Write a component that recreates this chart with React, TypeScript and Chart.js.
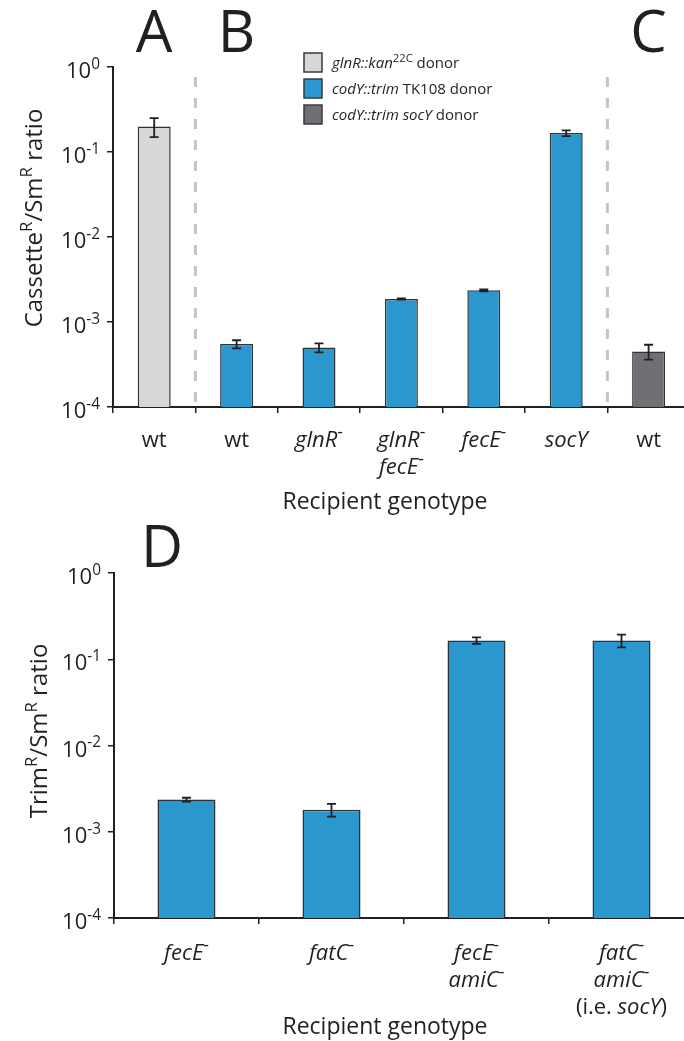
import React, { useEffect, useRef } from "react";
import { Chart, registerables } from "chart.js";

Chart.register(...registerables);

const FONT = '"Open Sans", "Noto Sans", sans-serif';
const INK = "#231f20";

// ---- Panels A–C (top) ----
const topCategories = ["wt", "wt", "*glnR*^-^", "*glnR*^-^\n*fecE*^-^", "*fecE*^-^", "*socY*", "wt"];
const topValues = [0.2, 5.5e-4, 5.0e-4, 1.87e-3, 2.36e-3, 0.167, 4.5e-4];
const topErrors = [0.05, 0.6e-4, 0.6e-4, 0.03e-3, 0.06e-3, 0.013, 0.9e-4];
const topDonors = [0, 1, 1, 1, 1, 1, 2];
const topDividers = [1, 6];
const topLetters = ["A", "B", "C"];
const topLetterIndex = [0, 1, 6];

// ---- Legend (donor strains) ----
const donorLabels = ["*glnR::kan*^22C^ donor", "*codY::trim* TK108 donor", "*codY::trim socY* donor"];
const donorColors = ["#d6d7d9", "#2a98cf", "#6f7073"];

// ---- Panel D (bottom) ----
const bottomCategories = ["*fecE*^-^", "*fatC*^-^", "*fecE*^-^\n*amiC*^-^", "*fatC*^-^\n*amiC*^-^\n(i.e. *socY*)"];
const bottomValues = [2.36e-3, 1.8e-3, 0.165, 0.165];
const bottomErrors = [0.12e-3, 0.3e-3, 0.014, 0.028];

// ---- Shared axis ----
const yTickValues = [1, 1e-1, 1e-2, 1e-3, 1e-4];
const yTickLabels = ["10^0^", "10^-1^", "10^-2^", "10^-3^", "10^-4^"];
const xTitle = "Recipient genotype";

type Seg = { t: string; i: boolean; s: boolean };
function parseRich(str: string): Seg[] {
  const segs: Seg[] = [];
  let it = false, sp = false, buf = "";
  for (const ch of str) {
    if (ch === "*" || ch === "^") {
      if (buf) segs.push({ t: buf, i: it, s: sp });
      buf = "";
      if (ch === "*") it = !it; else sp = !sp;
    } else buf += ch;
  }
  if (buf) segs.push({ t: buf, i: it, s: sp });
  return segs;
}
function fontFor(seg: Seg, size: number, supRatio: number) {
  const sz = seg.s ? size * supRatio : size;
  return `${seg.i ? "italic " : ""}${sz}px ${FONT}`;
}
function drawRich(ctx: CanvasRenderingContext2D, str: string, x: number, y: number, size: number, align: string, supRatio = 0.7) {
  const segs = parseRich(str);
  let w = 0;
  for (const s of segs) { ctx.font = fontFor(s, size, supRatio); w += ctx.measureText(s.t).width; }
  let cx = align === "center" ? x - w / 2 : align === "right" ? x - w : x;
  ctx.textAlign = "left";
  ctx.textBaseline = "alphabetic";
  ctx.fillStyle = INK;
  for (const s of segs) {
    ctx.font = fontFor(s, size, supRatio);
    ctx.fillText(s.t, cx, s.s ? y - size * 0.42 : y);
    cx += ctx.measureText(s.t).width;
  }
}

type DecorCfg = {
  errors: number[];
  dividers: number[];
  letters: { text: string; x: number }[];
  letterBaseline: number;
  yTitle: string;
  yTitleX: number;
  yTitleY: number;
  labelBase: number;
  labelGap: number;
  titleBase: number;
  legend: boolean;
};

function makeDecor(cfg: DecorCfg) {
  return {
    id: "decor",
    beforeDatasetsDraw(chart: any) {
      const ctx = chart.ctx as CanvasRenderingContext2D;
      const xs = chart.scales.x;
      const area = chart.chartArea;
      ctx.save();
      ctx.strokeStyle = "#c3c5c8";
      ctx.lineWidth = 3;
      ctx.setLineDash([10, 11]);
      for (const d of cfg.dividers) {
        const x = (xs.getPixelForValue(d - 1) + xs.getPixelForValue(d)) / 2;
        ctx.beginPath();
        ctx.moveTo(x, area.top + 10);
        ctx.lineTo(x, area.bottom);
        ctx.stroke();
      }
      ctx.restore();
    },
    afterDatasetsDraw(chart: any) {
      const ctx = chart.ctx as CanvasRenderingContext2D;
      const xs = chart.scales.x;
      const ys = chart.scales.y;
      const vals = chart.data.datasets[0].data as number[];
      ctx.save();
      ctx.strokeStyle = INK;
      ctx.lineWidth = 1.8;
      vals.forEach((v, i) => {
        const e = cfg.errors[i];
        const x = xs.getPixelForValue(i);
        const y1 = ys.getPixelForValue(v + e);
        const y2 = ys.getPixelForValue(Math.max(v - e, 1e-6));
        ctx.beginPath();
        ctx.moveTo(x, y1); ctx.lineTo(x, y2);
        ctx.moveTo(x - 4.5, y1); ctx.lineTo(x + 4.5, y1);
        ctx.moveTo(x - 4.5, y2); ctx.lineTo(x + 4.5, y2);
        ctx.stroke();
      });
      ctx.restore();
    },
    afterDraw(chart: any) {
      const ctx = chart.ctx as CanvasRenderingContext2D;
      const xs = chart.scales.x;
      const ys = chart.scales.y;
      const area = chart.chartArea;
      ctx.save();
      // y tick labels
      yTickValues.forEach((v, i) => {
        drawRich(ctx, yTickLabels[i], area.left - 13, ys.getPixelForValue(v) + 11, 22, "right", 0.7);
      });
      // x tick labels
      (chart.data.labels as string[]).forEach((lab, i) => {
        const x = xs.getPixelForValue(i);
        lab.split("\n").forEach((line, j) => {
          drawRich(ctx, line, x, area.bottom + cfg.labelBase + j * cfg.labelGap, 22, "center", 0.8);
        });
      });
      // x title
      drawRich(ctx, xTitle, 385, area.bottom + cfg.titleBase, 23, "center");
      // y title
      ctx.save();
      ctx.translate(cfg.yTitleX, cfg.yTitleY);
      ctx.rotate(-Math.PI / 2);
      drawRich(ctx, cfg.yTitle, 0, 0, 24, "center", 0.7);
      ctx.restore();
      // panel letters
      ctx.fillStyle = INK;
      ctx.font = `58px ${FONT}`;
      ctx.textAlign = "center";
      ctx.textBaseline = "alphabetic";
      for (const L of cfg.letters) ctx.fillText(L.text, L.x, cfg.letterBaseline);
      // legend
      if (cfg.legend) {
        donorLabels.forEach((lab, i) => {
          const by = 53 + i * 26;
          ctx.fillStyle = donorColors[i];
          ctx.fillRect(304, by, 18, 19);
          ctx.strokeStyle = "#3a3a3a";
          ctx.lineWidth = 1.5;
          ctx.strokeRect(304, by, 18, 19);
          drawRich(ctx, lab, 332, by + 15, 15, "left", 0.75);
        });
      }
      ctx.restore();
    },
  };
}

function scalesFor() {
  const grid = { display: true, offset: true, drawOnChartArea: false, drawTicks: true, tickLength: 6, color: INK, lineWidth: 1.5 };
  return {
    x: {
      type: "category",
      offset: true,
      grid,
      border: { display: true, color: INK, width: 2 },
      ticks: { display: false },
      afterFit: (s: any) => { s.height = 6; },
    },
    y: {
      type: "logarithmic",
      min: 1e-4,
      max: 1,
      grid: { ...grid, offset: false },
      border: { display: true, color: INK, width: 2 },
      ticks: { display: false },
      afterBuildTicks: (s: any) => { s.ticks = yTickValues.map((v) => ({ value: v })); },
      afterFit: (s: any) => { s.width = 6; },
    },
  };
}

export default function App() {
  const topRef = useRef<HTMLCanvasElement>(null);
  const botRef = useRef<HTMLCanvasElement>(null);

  useEffect(() => {
    const slotTop = 82.4;
    const topLeft = 113;
    const top = new Chart(topRef.current!, {
      type: "bar",
      data: {
        labels: topCategories,
        datasets: [{
          data: topValues,
          backgroundColor: topDonors.map((d) => donorColors[d]),
          borderColor: "#2e3338",
          borderWidth: 1.5,
          barPercentage: 0.4,
          categoryPercentage: 1,
        }],
      },
      options: {
        responsive: false,
        animation: false,
        devicePixelRatio: 1,
        layout: { padding: { left: topLeft - 6, top: 67, right: 720 - (topLeft + 7 * slotTop), bottom: 520 - 407 - 6 } },
        plugins: { legend: { display: false }, tooltip: { enabled: false } },
        scales: scalesFor() as any,
      },
      plugins: [makeDecor({
        errors: topErrors,
        dividers: topDividers,
        letters: topLetters.map((t, k) => ({ text: t, x: topLeft + slotTop * (topLetterIndex[k] + 0.5) })),
        letterBaseline: 52,
        yTitle: "Cassette^R^/Sm^R^ ratio",
        yTitleX: 42,
        yTitleY: 218,
        labelBase: 40,
        labelGap: 27,
        titleBase: 102,
        legend: true,
      }) as any],
    });

    const slotBot = 145;
    const botLeft = 114;
    const bot = new Chart(botRef.current!, {
      type: "bar",
      data: {
        labels: bottomCategories,
        datasets: [{
          data: bottomValues,
          backgroundColor: donorColors[1],
          borderColor: "#2e3338",
          borderWidth: 1.5,
          barPercentage: 0.4,
          categoryPercentage: 1,
        }],
      },
      options: {
        responsive: false,
        animation: false,
        devicePixelRatio: 1,
        layout: { padding: { left: botLeft - 6, top: 53, right: 720 - (botLeft + 4 * slotBot), bottom: 521 - 398 - 6 } },
        plugins: { legend: { display: false }, tooltip: { enabled: false } },
        scales: scalesFor() as any,
      },
      plugins: [makeDecor({
        errors: bottomErrors,
        dividers: [],
        letters: [{ text: "D", x: 162 }],
        letterBaseline: 47,
        yTitle: "Trim^R^/Sm^R^ ratio",
        yTitleX: 47,
        yTitleY: 211,
        labelBase: 42,
        labelGap: 27,
        titleBase: 116,
        legend: false,
      }) as any],
    });

    return () => { top.destroy(); bot.destroy(); };
  }, []);

  return (
    <div style={{ position: "fixed", left: 0, top: 0, width: 684, height: 1041, overflow: "hidden", background: "#fff" }}>
      <canvas ref={topRef} width={720} height={520} style={{ position: "absolute", left: 0, top: 0, width: 720, height: 520 }} />
      <canvas ref={botRef} width={720} height={521} style={{ position: "absolute", left: 0, top: 520, width: 720, height: 521 }} />
    </div>
  );
}
